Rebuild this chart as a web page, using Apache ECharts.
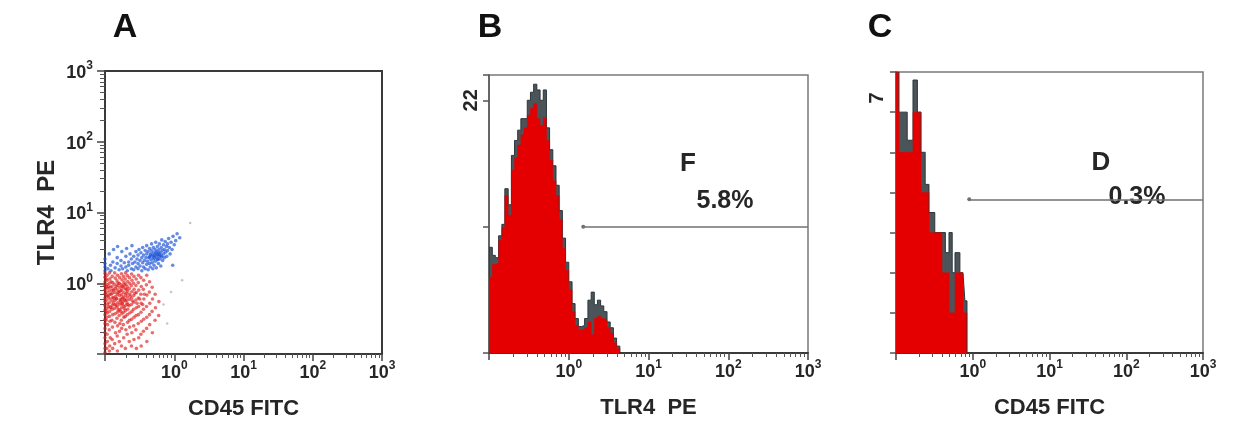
<!DOCTYPE html>
<html><head><meta charset="utf-8">
<script src="https://cdn.jsdelivr.net/npm/echarts@6/dist/echarts.min.js"></script>
<style>html,body{margin:0;padding:0;background:#fff}#c{width:1235px;height:432px}</style>
</head><body><div id="c"></div>
<script>
// ---------------- data ----------------
const panelLetters = ['A', 'B', 'C'];
const xTitles = ['CD45 FITC', 'TLR4  PE', 'CD45 FITC'];
const yTitleA = 'TLR4  PE';
const decadeTicks = [0.1, 1, 10, 100, 1000];
const decadeLabels = [1, 10, 100, 1000];
const minorTicks = [0.2,0.3,0.4,0.5,0.6,0.7,0.8,0.9,2,3,4,5,6,7,8,9,20,30,40,50,60,70,80,90,200,300,400,500,600,700,800,900];

// Panel A: CD45 FITC (x) vs TLR4 PE (y) events
const redPoints = [
[0.10,1.38],[0.10,1.22],[0.10,1.05],[0.10,0.93],[0.10,0.81],[0.10,0.71],[0.10,0.62],[0.10,0.55],[0.10,0.48],[0.10,0.42],[0.10,0.36],[0.10,0.31],[0.10,0.27],[0.10,0.23],[0.10,0.2],[0.10,0.17],[0.10,0.14],[0.10,0.12],[0.10,0.105],
[0.107,1.3],[0.108,1.1],[0.106,0.96],[0.109,0.85],[0.107,0.75],[0.108,0.66],[0.106,0.58],[0.109,0.51],[0.107,0.44],[0.108,0.38],[0.106,0.33],[0.109,0.26],[0.107,0.19],[0.108,0.15],[0.106,0.12],
[0.116,1.4],[0.118,1.16],[0.115,0.99],[0.119,0.88],[0.117,0.78],[0.116,0.69],[0.118,0.6],[0.115,0.53],[0.119,0.46],[0.117,0.4],[0.116,0.34],[0.118,0.29],[0.115,0.22],[0.119,0.17],[0.117,0.13],[0.116,0.11],
[0.127,1.25],[0.129,1.02],[0.126,0.9],[0.128,0.8],[0.127,0.72],[0.129,0.63],[0.126,0.56],[0.128,0.49],[0.127,0.43],[0.129,0.36],[0.126,0.3],[0.128,0.24],[0.127,0.16],[0.129,0.12],
[0.138,1.4],[0.141,1.18],[0.137,0.97],[0.14,0.84],[0.139,0.74],[0.142,0.65],[0.138,0.57],[0.141,0.5],[0.137,0.44],[0.14,0.37],[0.139,0.28],[0.142,0.2],[0.138,0.14],
[0.152,1.3],[0.149,1.08],[0.153,0.93],[0.15,0.81],[0.151,0.7],[0.148,0.61],[0.153,0.53],[0.15,0.46],[0.151,0.39],[0.149,0.32],[0.152,0.25],[0.15,0.18],[0.151,0.11],
[0.163,1.2],[0.161,1.0],[0.164,0.87],[0.16,0.76],[0.162,0.67],[0.165,0.58],[0.161,0.5],[0.163,0.42],[0.16,0.35],[0.164,0.27],[0.162,0.21],[0.161,0.15],
[0.173,1.36],[0.176,1.12],[0.172,0.95],[0.175,0.8],[0.174,0.69],[0.171,0.6],[0.176,0.52],[0.173,0.45],[0.175,0.37],[0.172,0.3],[0.174,0.23],[0.173,0.13],
[0.185,1.25],[0.188,1.03],[0.184,0.88],[0.187,0.74],[0.186,0.64],[0.183,0.55],[0.188,0.47],[0.185,0.39],[0.187,0.33],[0.184,0.26],[0.186,0.17],
[0.198,1.4],[0.196,1.15],[0.2,0.97],[0.197,0.83],[0.199,0.68],[0.195,0.57],[0.201,0.49],[0.198,0.41],[0.196,0.34],[0.2,0.22],[0.197,0.12],
[0.21,1.28],[0.213,1.06],[0.209,0.9],[0.212,0.77],[0.211,0.64],[0.208,0.53],[0.213,0.43],[0.21,0.36],[0.212,0.28],[0.209,0.19],
[0.225,1.2],[0.228,0.99],[0.224,0.84],[0.227,0.7],[0.226,0.59],[0.223,0.48],[0.228,0.38],[0.225,0.3],[0.227,0.24],[0.224,0.15],
[0.242,1.35],[0.245,1.1],[0.24,0.92],[0.244,0.76],[0.243,0.62],[0.241,0.5],[0.245,0.4],[0.242,0.31],[0.244,0.2],[0.241,0.13],
[0.262,1.25],[0.258,1.0],[0.263,0.82],[0.26,0.67],[0.261,0.54],[0.259,0.43],[0.263,0.33],[0.26,0.25],[0.262,0.16],
[0.282,1.15],[0.279,0.93],[0.284,0.74],[0.28,0.58],[0.283,0.45],[0.281,0.35],[0.279,0.22],[0.284,0.12],
[0.305,1.3],[0.302,1.02],[0.307,0.8],[0.303,0.62],[0.306,0.47],[0.304,0.36],[0.302,0.27],[0.307,0.17],
[0.33,1.2],[0.334,0.9],[0.329,0.7],[0.333,0.52],[0.331,0.39],[0.335,0.29],[0.33,0.19],[0.333,0.13],
[0.362,1.1],[0.358,0.82],[0.364,0.6],[0.36,0.43],[0.363,0.31],[0.359,0.21],
[0.4,1.3],[0.396,0.95],[0.403,0.68],[0.398,0.47],[0.401,0.33],[0.399,0.23],[0.402,0.15],
[0.44,1.05],[0.437,0.75],[0.443,0.52],[0.439,0.36],[0.442,0.26],
[0.48,0.88],[0.485,0.6],[0.478,0.4],[0.483,0.2],
[0.53,0.7],[0.535,0.45],[0.528,0.3],
[0.6,0.55],[0.595,0.35],
[0.112,0.9],[0.122,0.7],[0.133,0.62],[0.145,0.9],[0.155,0.74],[0.168,0.55],[0.178,0.9],[0.19,0.6],[0.205,0.72],[0.215,0.5],
[0.112,0.64],[0.122,0.45],[0.133,0.8],[0.145,0.6],[0.155,0.42],[0.168,0.78],[0.178,0.5],[0.19,0.44],[0.205,0.58],[0.232,0.66],
[0.112,0.47],[0.122,1.05],[0.133,0.52],[0.145,0.48],[0.155,1.0],[0.168,0.4],[0.178,0.62],[0.19,0.95],[0.205,0.82],[0.25,0.56],
[0.104,0.68],[0.104,0.88],[0.104,0.4],[0.104,1.15],[0.104,0.3],[0.27,0.72],[0.29,0.52],[0.318,0.6],[0.35,0.5],[0.37,0.7]
];
const bluePoints = [
[0.10,1.5],[0.10,1.7],[0.10,1.9],[0.10,2.2],
[0.11,1.6],[0.115,2.6],[0.12,1.8],[0.122,1.5],[0.13,2.0],[0.133,3.0],[0.14,1.65],[0.15,1.9],[0.15,2.3],[0.152,3.3],[0.16,1.55],
[0.17,1.75],[0.17,2.1],[0.175,2.8],[0.18,1.6],[0.19,1.95],[0.2,2.4],[0.2,1.7],[0.205,3.1],[0.21,1.5],[0.22,2.0],[0.22,1.8],
[0.23,2.6],[0.24,1.6],[0.24,2.2],[0.245,3.4],[0.25,1.9],[0.26,1.55],[0.26,2.4],[0.27,2.0],[0.28,1.7],[0.28,2.8],[0.29,2.2],
[0.3,1.6],[0.3,1.9],[0.3,2.5],[0.31,3.0],[0.32,2.1],[0.32,1.75],[0.33,2.7],[0.34,1.5],[0.34,2.3],[0.35,1.95],[0.35,3.2],
[0.36,2.5],[0.36,1.7],[0.37,2.1],[0.38,2.9],[0.38,1.6],[0.39,2.3],[0.4,1.85],[0.4,2.6],[0.4,3.4],[0.41,2.05],[0.42,1.55],
[0.42,2.8],[0.43,2.3],[0.44,1.9],[0.44,3.1],[0.45,2.5],[0.45,1.7],[0.46,2.15],[0.47,2.9],[0.47,3.6],[0.48,1.95],[0.48,2.4],
[0.49,1.6],[0.5,2.7],[0.5,3.2],[0.5,2.2],[0.51,1.8],[0.52,2.5],[0.53,3.0],[0.53,2.05],[0.54,3.8],[0.55,2.35],[0.55,1.65],
[0.56,2.8],[0.57,2.15],[0.57,3.3],[0.58,2.55],[0.59,1.9],[0.6,3.0],[0.6,2.4],[0.61,3.6],[0.62,2.2],[0.63,2.7],[0.64,1.75],
[0.65,3.2],[0.65,2.45],[0.66,4.1],[0.67,2.9],[0.68,2.1],[0.7,3.5],[0.7,2.6],[0.72,3.0],[0.72,2.3],[0.74,3.9],[0.75,2.75],
[0.77,3.3],[0.78,2.4],[0.8,3.6],[0.8,2.9],[0.83,4.3],[0.85,3.2],[0.87,2.6],[0.9,3.8],[0.93,3.0],[0.96,4.6],[1.0,3.5],
[1.05,4.0],[1.1,5.0],[1.2,4.4],[0.95,1.8],
[0.46,2.6],[0.52,2.3],[0.56,2.55],[0.58,2.2],[0.62,2.5],[0.54,2.7],[0.5,2.45],[0.6,2.7],[0.66,2.35],[0.44,2.35]
];
const grayPoints = [[0.79,0.27],[1.7,7.1],[0.7,0.5],[1.3,1.1],[0.9,0.75]];

// Panel B: TLR4 PE histogram (bin edges, counts, upper envelope)
const binEdgesB = [0.100,0.110,0.120,0.132,0.145,0.158,0.174,0.191,0.209,0.229,0.251,0.275,0.302,0.331,0.363,0.398,0.437,0.479,0.525,0.575,0.631,0.692,0.759,0.832,0.912,1.00,1.10,1.20,1.32,1.45,1.58,1.74,1.91,2.09,2.29,2.51,2.75,3.02,3.31,3.63,3.98,4.37];
const countsB = [6.6,7.7,7.8,9.8,10.9,13.7,12.0,15.9,17.0,18.1,19.0,19.6,20.7,21.3,21.7,20.4,19.8,20.5,18.5,16.8,15.0,13.7,11.6,9.1,7.2,5.5,3.6,2.4,2.0,2.0,2.2,2.7,1.6,3.0,3.2,3.0,2.9,2.2,1.7,0.9,0.4];
const envelopeB = [9.2,8.5,8.3,10.2,11.2,14.3,12.9,17.2,18.5,19.4,20.4,20.4,22.0,22.7,23.4,22.9,22.0,22.9,19.6,17.7,16.3,14.6,12.4,10.0,7.9,6.2,4.3,3.0,2.3,2.4,3.0,4.6,5.3,4.2,4.6,4.1,3.6,2.7,2.2,1.3,0.6];
const gateB = [1.52, 1000, 11];   // from, to, level
const gateTextB = ['F', '5.8%'];

// Panel C: CD45 FITC histogram
const binEdgesC = [0.100,0.109,0.140,0.1665,0.190,0.2117,0.240,0.269,0.320,0.397,0.440,0.490,0.540,0.587,0.680,0.746,0.790,0.841];
const countsC = [7,5,5,6,6,4,4,3,3,2,2,1,1,2,2,1,1];
const envelopeC = [7,6,5.3,6.8,6,5,4.2,3.5,3,3,2.5,3,2,2.5,2,2,1.3];
const gateC = [0.9, 1000, 3.83];
const gateTextC = ['D', '0.3%'];

// ---------------- chart ----------------
const FONT = 'Liberation Sans, Arial, Helvetica, sans-serif';
const INK = '#262626';
const RED = '#e40000';
const DARK = '#2c363b';

function supLabel(v) {
  const e = Math.round(Math.log10(v));
  return e < 0 ? '' : '{b|10}{s|' + e + '}';
}
const richSup = {
  b: {fontSize: 18, fontWeight: 'bold', fontFamily: FONT, color: INK, lineHeight: 22, verticalAlign: 'bottom'},
  s: {fontSize: 12, fontWeight: 'bold', fontFamily: FONT, color: INK, lineHeight: 12, verticalAlign: 'top'}
};
function stepData(edges, counts) {
  const d = counts.map((c, i) => [edges[i], c]);
  d.push([edges[edges.length - 1], 0]);
  return d;
}
function mainLogX(grid, name, lineColor) {
  return {
    type: 'log', logBase: 10, gridIndex: grid, min: 0.1, max: 1000, position: 'bottom',
    name: name, nameLocation: 'middle', nameGap: 44,
    nameTextStyle: {fontFamily: FONT, fontWeight: 'bold', fontSize: 22, color: INK},
    axisLine: {show: true, onZero: false, lineStyle: {color: lineColor, width: 2}},
    axisTick: {show: true, inside: false, length: 7, customValues: decadeTicks, lineStyle: {color: '#444', width: 1.5}},
    axisLabel: {show: true, margin: 6, customValues: decadeLabels, formatter: supLabel, rich: richSup},
    splitLine: {show: false}
  };
}
function minorLogX(grid) {
  return {
    type: 'log', logBase: 10, gridIndex: grid, min: 0.1, max: 1000, position: 'bottom',
    axisLine: {show: false, onZero: false},
    axisTick: {show: true, length: 4, customValues: minorTicks, lineStyle: {color: '#555', width: 1}},
    axisLabel: {show: false}, splitLine: {show: false}
  };
}

const chart = echarts.init(document.getElementById('c'), null, {renderer: 'canvas'});
chart.setOption({
  animation: false,
  backgroundColor: '#ffffff',
  grid: [
    {left: 105, top: 71, width: 277, height: 283, show: true, borderColor: '#3a3a3a', borderWidth: 2},
    {left: 489, top: 75, width: 319, height: 278, show: true, borderColor: '#7a7a7a', borderWidth: 1.5},
    {left: 896, top: 72, width: 307, height: 281, show: true, borderColor: '#7a7a7a', borderWidth: 1.5}
  ],
  xAxis: [
    mainLogX(0, xTitles[0], '#3a3a3a'), minorLogX(0),
    mainLogX(1, xTitles[1], '#3a3a3a'), minorLogX(1),
    mainLogX(2, xTitles[2], '#3a3a3a'), minorLogX(2)
  ],
  yAxis: [
    {
      type: 'log', logBase: 10, gridIndex: 0, min: 0.1, max: 1000, position: 'left',
      name: yTitleA, nameLocation: 'middle', nameGap: 46, nameRotate: 90,
      nameTextStyle: {fontFamily: FONT, fontWeight: 'bold', fontSize: 24, color: INK},
      axisLine: {show: true, onZero: false, lineStyle: {color: '#3a3a3a', width: 2}},
      axisTick: {show: true, length: 8, customValues: decadeTicks, lineStyle: {color: '#444', width: 1.5}},
      axisLabel: {show: true, margin: 12, customValues: decadeLabels, formatter: supLabel, rich: richSup},
      splitLine: {show: false}
    },
    {
      type: 'log', logBase: 10, gridIndex: 0, min: 0.1, max: 1000, position: 'left',
      axisLine: {show: false, onZero: false},
      axisTick: {show: true, length: 5, customValues: minorTicks, lineStyle: {color: '#555', width: 1}},
      axisLabel: {show: false}, splitLine: {show: false}
    },
    {
      type: 'value', gridIndex: 1, min: 0, max: 24.2, interval: 11, position: 'left',
      axisLine: {show: true, onZero: false, lineStyle: {color: '#555', width: 1.5}},
      axisTick: {show: true, length: 6, lineStyle: {color: '#555', width: 1.5}},
      axisLabel: {show: true, rotate: 90, margin: 8, fontFamily: FONT, fontWeight: 'bold', fontSize: 20, color: INK,
        formatter: v => (v === 22 ? '22' : '')},
      splitLine: {show: false}
    },
    {
      type: 'value', gridIndex: 2, min: 0, max: 7, interval: 1, position: 'left',
      axisLine: {show: true, onZero: false, lineStyle: {color: '#555', width: 1.5}},
      axisTick: {show: true, length: 6, lineStyle: {color: '#555', width: 1.5}},
      axisLabel: {show: false},
      splitLine: {show: false}
    }
  ],
  series: [
    {type: 'scatter', xAxisIndex: 0, yAxisIndex: 0, data: grayPoints, symbol: 'circle', symbolSize: 2.5,
     itemStyle: {color: 'rgba(150,150,150,0.7)'}, silent: true},
    {type: 'scatter', xAxisIndex: 0, yAxisIndex: 0, data: redPoints, symbol: 'circle', symbolSize: 3.6,
     itemStyle: {color: 'rgba(220,28,28,0.8)'}, silent: true},
    {type: 'scatter', xAxisIndex: 0, yAxisIndex: 0, data: bluePoints, symbol: 'circle', symbolSize: 3.6,
     itemStyle: {color: 'rgba(30,85,215,0.85)'}, silent: true},

    {type: 'line', xAxisIndex: 2, yAxisIndex: 2, data: stepData(binEdgesB, envelopeB), step: 'end', symbol: 'none',
     lineStyle: {color: DARK, width: 1}, areaStyle: {color: DARK, opacity: 0.85}, silent: true},
    {type: 'line', xAxisIndex: 2, yAxisIndex: 2, data: stepData(binEdgesB, countsB), step: 'end', symbol: 'none',
     lineStyle: {color: RED, width: 0.5}, areaStyle: {color: RED, opacity: 1}, silent: true,
     markLine: {silent: true, animation: false, symbol: ['circle', 'none'], symbolSize: 4,
       lineStyle: {color: '#707070', width: 1.5, type: 'solid'}, label: {show: false},
       data: [[{coord: [gateB[0], gateB[2]]}, {coord: [gateB[1], gateB[2]]}]]}},

    {type: 'line', xAxisIndex: 4, yAxisIndex: 3, data: stepData(binEdgesC, envelopeC), step: 'end', symbol: 'none',
     lineStyle: {color: DARK, width: 1}, areaStyle: {color: DARK, opacity: 0.85}, silent: true},
    {type: 'line', xAxisIndex: 4, yAxisIndex: 3, data: stepData(binEdgesC, countsC), step: 'end', symbol: 'none',
     lineStyle: {color: RED, width: 0.5}, areaStyle: {color: RED, opacity: 1}, silent: true,
     markLine: {silent: true, animation: false, symbol: ['circle', 'none'], symbolSize: 4,
       lineStyle: {color: '#707070', width: 1.5, type: 'solid'}, label: {show: false},
       data: [[{coord: [gateC[0], gateC[2]]}, {coord: [gateC[1], gateC[2]]}]]}}
  ],
  graphic: [
    {type: 'text', x: 125, y: 28, style: {text: panelLetters[0], font: 'bold 34px ' + FONT, fill: '#111', align: 'center', verticalAlign: 'middle'}},
    {type: 'text', x: 490, y: 28, style: {text: panelLetters[1], font: 'bold 34px ' + FONT, fill: '#111', align: 'center', verticalAlign: 'middle'}},
    {type: 'text', x: 880, y: 28, style: {text: panelLetters[2], font: 'bold 34px ' + FONT, fill: '#111', align: 'center', verticalAlign: 'middle'}},
    {type: 'text', x: 877, y: 98, rotation: Math.PI / 2, style: {text: '7', font: 'bold 20px ' + FONT, fill: INK, align: 'center', verticalAlign: 'middle'}},
    {type: 'text', x: 688, y: 164, style: {text: gateTextB[0], font: 'bold 26px ' + FONT, fill: INK, align: 'center', verticalAlign: 'middle'}},
    {type: 'text', x: 725, y: 201, style: {text: gateTextB[1], font: 'bold 25px ' + FONT, fill: INK, align: 'center', verticalAlign: 'middle'}},
    {type: 'text', x: 1101, y: 163, style: {text: gateTextC[0], font: 'bold 26px ' + FONT, fill: INK, align: 'center', verticalAlign: 'middle'}},
    {type: 'text', x: 1137, y: 197, style: {text: gateTextC[1], font: 'bold 25px ' + FONT, fill: INK, align: 'center', verticalAlign: 'middle'}}
  ]
});
</script>
</body></html>
